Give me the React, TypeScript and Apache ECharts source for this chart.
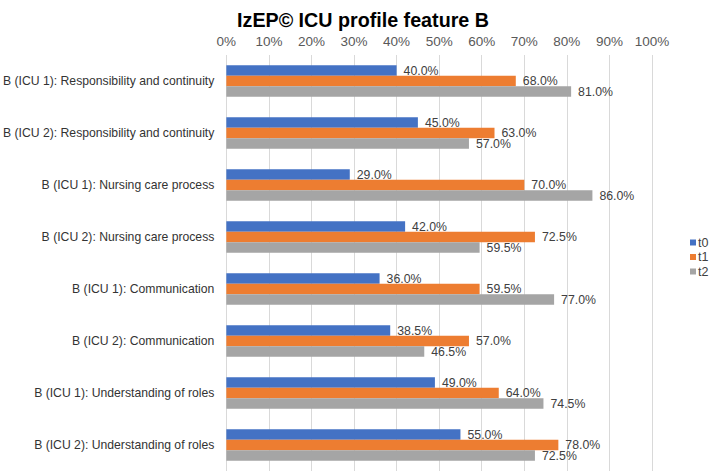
import React, { useEffect, useRef } from "react";
import * as echarts from "echarts";

// Category rows, top to bottom
const categories = [
  "B (ICU 1): Responsibility and continuity",
  "B (ICU 2): Responsibility and continuity",
  "B (ICU 1): Nursing care process",
  "B (ICU 2): Nursing care process",
  "B (ICU 1): Communication",
  "B (ICU 2): Communication",
  "B (ICU 1): Understanding of roles",
  "B (ICU 2): Understanding of roles",
];

// Share of fulfilled criteria (%) per measurement time
const t0 = [40.0, 45.0, 29.0, 42.0, 36.0, 38.5, 49.0, 55.0];
const t1 = [68.0, 63.0, 70.0, 72.5, 59.5, 57.0, 64.0, 78.0];
const t2 = [81.0, 57.0, 86.0, 59.5, 77.0, 46.5, 74.5, 72.5];

const seriesNames = ["t0", "t1", "t2"];
const seriesColors = ["#4472C4", "#ED7D31", "#A5A5A5"];

const FONT = "'Liberation Sans', Arial, sans-serif";

export default function App() {
  const ref = useRef<HTMLDivElement>(null);

  useEffect(() => {
    if (!ref.current) return;
    document.body.style.margin = "0";
    const chart = echarts.init(ref.current, null, { renderer: "svg" });
    const values = [t0, t1, t2];

    chart.setOption({
      animation: false,
      backgroundColor: "#ffffff",
      title: {
        text: "IzEP\u00A9 ICU profile feature B",
        left: 358,
        top: 5,
        textAlign: "center",
        textStyle: {
          fontFamily: FONT,
          fontSize: 19.7,
          fontWeight: "bold",
          color: "#000000",
        },
      },
      legend: {
        orient: "vertical",
        left: 685,
        top: 231,
        itemWidth: 6,
        itemHeight: 6,
        itemGap: 1.5,
        icon: "rect",
        textStyle: { fontFamily: FONT, fontSize: 12.5, color: "#404040", padding: [0, 0, 0, -3] },
        data: seriesNames,
      },
      grid: { left: 224, right: 57, top: 55, bottom: 0, containLabel: false },
      xAxis: {
        type: "value",
        position: "top",
        min: 0,
        max: 100,
        interval: 10,
        axisLine: { show: false },
        axisTick: { show: false },
        axisLabel: {
          formatter: "{value}%",
          fontFamily: FONT,
          fontSize: 13.5,
          color: "#595959",
          margin: 7,
        },
        splitLine: { show: true, lineStyle: { color: "#D9D9D9", width: 1 } },
      },
      yAxis: {
        type: "category",
        inverse: true,
        data: categories,
        axisLine: { show: false },
        axisTick: { show: false },
        axisLabel: { fontFamily: FONT, fontSize: 12.2, color: "#333333", margin: 12 },
      },
      series: values.map((v, i) => ({
        name: seriesNames[i],
        type: "bar",
        data: v,
        barWidth: 10.5,
        barGap: "0%",
        itemStyle: { color: seriesColors[i] },
        label: {
          show: true,
          position: "right",
          distance: 7,
          formatter: (p: any) => `${Number(p.value).toFixed(1)}%`,
          fontFamily: FONT,
          fontSize: 12.3,
          color: "#404040",
        },
      })),
    });

    return () => chart.dispose();
  }, []);

  return (
    <div
      ref={ref}
      style={{ width: 709, height: 471, position: "absolute", left: 0, top: 0 }}
    />
  );
}
